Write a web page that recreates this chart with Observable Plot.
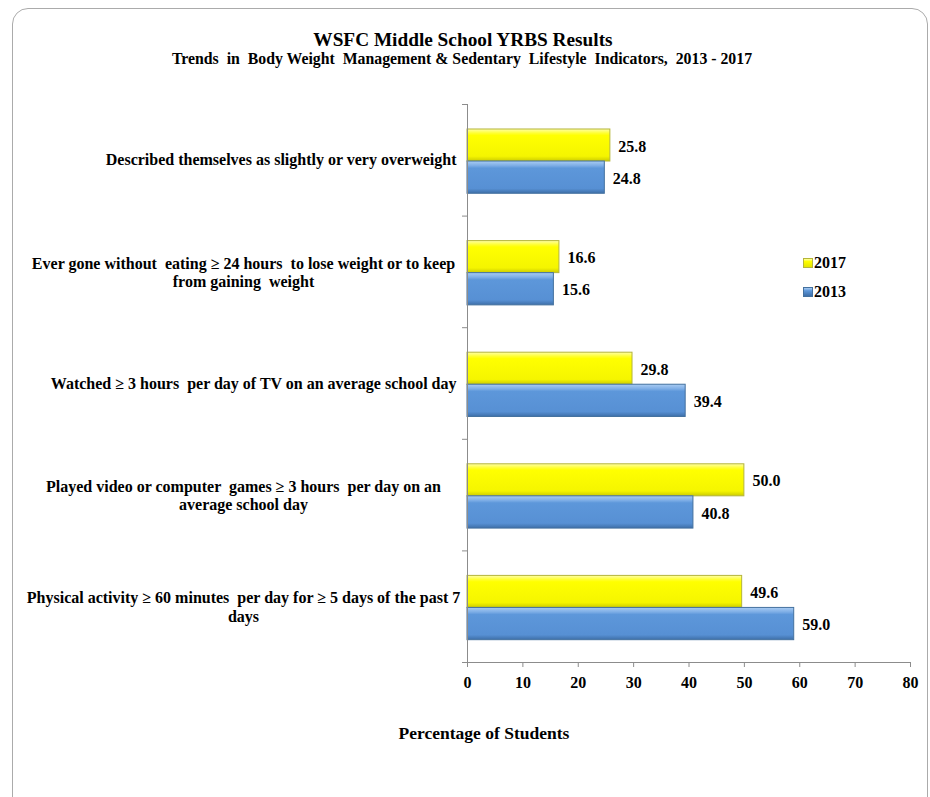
<!DOCTYPE html>
<html>
<head>
<meta charset="utf-8">
<script src="https://cdn.jsdelivr.net/npm/d3@7"></script>
<script src="https://cdn.jsdelivr.net/npm/@observablehq/plot@0.6"></script>
<style>
  html, body { margin: 0; padding: 0; background: #fff; }
  #wrap { position: relative; width: 930px; height: 797px; overflow: hidden; font-family: "Liberation Serif", "Times New Roman", serif; font-weight: bold; color: #000; }
  #frame { position: absolute; left: 12px; top: 8px; width: 916px; height: 805px; border: 1px solid #ababab; border-radius: 16px; box-sizing: border-box; }
  .abs { position: absolute; white-space: nowrap; line-height: 1; }
  #title { left: 0; width: 926px; top: 30px; text-align: center; font-size: 19.3px; }
  #subtitle { left: 0; width: 924px; top: 51px; text-align: center; font-size: 15.8px; }
  #xtitle { left: 0; width: 968px; top: 725px; text-align: center; font-size: 17.5px; }
  .leg { position: absolute; left: 803px; display: flex; align-items: center; font-size: 16px; line-height: 16px; }
  .sw { width: 10px; height: 10px; box-sizing: border-box; margin-right: 1px; }
  #chart { position: absolute; left: 0; top: 0; }
</style>
</head>
<body>
<div id="wrap">
  <div id="frame"></div>
  <div id="chart"></div>
  <div class="abs" id="title">WSFC Middle School YRBS Results</div>
  <div class="abs" id="subtitle">Trends&nbsp; in&nbsp; Body Weight&nbsp; Management &amp; Sedentary&nbsp; Lifestyle&nbsp; Indicators,&nbsp; 2013 - 2017</div>
  <div class="abs" id="xtitle">Percentage of Students</div>
  <div class="leg" id="leg2017"></div>
  <div class="leg" id="leg2013"></div>
</div>
<script>
// ---- data ----
const categories = [
  "Described themselves as slightly or very overweight",
  "Ever gone without  eating ≥ 24 hours to lose weight or to keep from gaining  weight",
  "Watched ≥ 3 hours  per day of TV on an average school day",
  "Played video or computer  games ≥ 3 hours  per day on an average school day",
  "Physical activity ≥ 60 minutes  per day for ≥ 5 days of the past 7 days"
];
const labelLines = [
  ["Described themselves as slightly or very overweight"],
  ["Ever gone without  eating ≥ 24 hours  to lose weight or to keep", "from gaining  weight"],
  ["Watched ≥ 3 hours  per day of TV on an average school day"],
  ["Played video or computer  games ≥ 3 hours  per day on an", "average school day"],
  ["Physical activity ≥ 60 minutes  per day for ≥ 5 days of the past 7", "days"]
];
const series = ["2017", "2013"];
const values2017 = [25.8, 16.6, 29.8, 50.0, 49.6];
const values2013 = [24.8, 15.6, 39.4, 40.8, 59.0];
const xTicks = [0, 10, 20, 30, 40, 50, 60, 70, 80];

// ---- build table ----
const valuesBySeries = {"2017": values2017, "2013": values2013};
const data = categories.flatMap((c, i) => series.map(s => ({i, category: c, year: s, value: valuesBySeries[s][i]})));
const slot = {"2017": [0.224, 0.511], "2013": [0.511, 0.80]};
const labels = labelLines.map((lines, i) => ({i, text: lines.join("\n"), multi: lines.length > 1}));

const gray = "#8c8c8c";
const font = "'Liberation Serif', 'Times New Roman', serif";

const barOpts = (s, fill, stroke) => ({
  x1: 0,
  x2: "value",
  y1: d => d.i + slot[s][0],
  y2: d => d.i + slot[s][1],
  fill, stroke, strokeWidth: 1
});

const plot = Plot.plot({
  width: 930,
  height: 797,
  marginLeft: 467,
  marginRight: 20,
  marginTop: 104,
  marginBottom: 135,
  style: {fontFamily: font, fontWeight: "bold", fontSize: "16px", color: "#000", background: "transparent"},
  x: {type: "linear", domain: [0, 80], ticks: xTicks, tickFormat: d => d, tickSize: 5, tickPadding: 9, label: null, line: false},
  y: {type: "linear", domain: [0, 5], reverse: true, axis: null},
  marks: [
    Plot.rectX(data.filter(d => d.year === "2017"), barOpts("2017", "url(#gY)", "#b5b53a")),
    Plot.rectX(data.filter(d => d.year === "2013"), barOpts("2013", "url(#gB)", "#44719f")),
    Plot.text(data, {
      x: "value",
      y: d => d.i + (slot[d.year][0] + slot[d.year][1]) / 2,
      text: d => d.value.toFixed(1),
      textAnchor: "start", dx: 8, dy: 1, fontSize: 16, fontWeight: "bold", fill: "#000"
    }),
    Plot.ruleX([0], {y1: 0, y2: 5, stroke: gray}),
    Plot.ruleY([5], {x1: -0.9, x2: 80, stroke: gray}),
    Plot.ruleY(d3.range(0, 5), {y: d => d, x1: -0.9, x2: 0, stroke: gray}),
    Plot.text(labels.filter(d => !d.multi), {
      x: 0, y: d => d.i + 0.5, text: "text", textAnchor: "end", dx: -11,
      fontSize: 16, fontWeight: "bold", fill: "#000", lineAnchor: "middle"
    }),
    Plot.text(labels.filter(d => d.multi), {
      x: 0, y: d => d.i + 0.5, text: "text", textAnchor: "middle", dx: -224,
      fontSize: 16, fontWeight: "bold", fill: "#000", lineAnchor: "middle", lineHeight: 1.13
    })
  ]
});

// gradients
const defs = d3.select(plot).insert("defs", ":first-child");
function grad(id, stops) {
  const g = defs.append("linearGradient").attr("id", id).attr("x1", 0).attr("y1", 0).attr("x2", 0).attr("y2", 1);
  stops.forEach(([o, c]) => g.append("stop").attr("offset", o).attr("stop-color", c));
}
grad("gY", [[0, "#ffffa8"], [0.13, "#ffff30"], [0.2, "#ffff00"], [0.85, "#f5f500"], [1, "#cccc00"]]);
grad("gB", [[0, "#a9ccf3"], [0.14, "#7eaee6"], [0.22, "#5d97da"], [0.85, "#5790d4"], [1, "#3e6fa8"]]);

d3.select(plot).selectAll('[aria-label^="x-axis"] line, [aria-label^="x-axis"] path').style("stroke", gray);
d3.select(plot).selectAll('[aria-label^="x-axis"] text').style("fill", "#000");

document.getElementById("chart").appendChild(plot);

// legend
[["leg2017", "2017", "linear-gradient(#ffffa8, #ffff00 30%, #e5e500)", "#b5b53a", 255],
 ["leg2013", "2013", "linear-gradient(#a9ccf3, #5d97da 35%, #3e6fa8)", "#44719f", 284]].forEach(([id, txt, bg, bd, top]) => {
  const el = document.getElementById(id);
  el.style.top = top + "px";
  const sw = document.createElement("div");
  sw.className = "sw";
  sw.style.background = bg;
  sw.style.border = "1px solid " + bd;
  el.appendChild(sw);
  el.appendChild(document.createTextNode(txt));
});
</script>
</body>
</html>
